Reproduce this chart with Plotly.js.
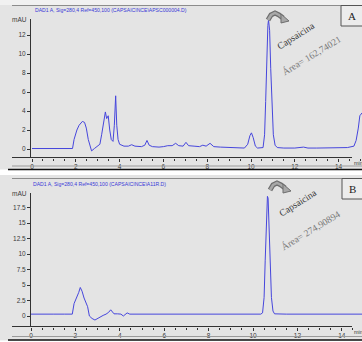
<!DOCTYPE html>
<html>
<head>
<meta charset="utf-8">
<script src="https://cdn.plot.ly/plotly-3.0.1.min.js"></script>
<style>html,body{margin:0;padding:0;background:#fff}#chart{width:362px;height:342px}</style>
</head>
<body>
<div id="chart"></div>
<script>
// Panel A: time (min) and absorbance (mAU)
const timeA = [0, 0.5, 1.0, 1.5, 1.85, 1.92, 1.98, 2.05, 2.15, 2.3, 2.4, 2.48, 2.57, 2.65, 2.72, 2.85, 3.0, 3.1, 3.18, 3.25, 3.35, 3.41, 3.48, 3.55, 3.62, 3.7, 3.76, 3.82, 3.87, 3.93, 4.0, 4.2, 4.4, 4.55, 4.7, 5.0, 5.15, 5.25, 5.35, 5.5, 5.8, 6.0, 6.2, 6.4, 6.56, 6.7, 6.9, 7.03, 7.15, 7.4, 7.65, 7.8, 7.95, 8.13, 8.3, 8.6, 9.0, 9.4, 9.7, 9.85, 9.95, 10.02, 10.1, 10.2, 10.3, 10.55, 10.62, 10.67, 10.72, 10.77, 10.8, 10.85, 10.9, 10.95, 11.02, 11.1, 11.2, 11.5, 12.0, 12.4, 12.6, 13.0, 13.5, 14.0, 14.4, 14.7, 14.8, 14.9, 14.97, 15.07];
const mauA = [0.05, 0.05, 0.03, 0.05, 0.05, 1.0, 1.6, 2.0, 2.5, 2.9, 2.8, 2.2, 1.0, 0.2, -0.2, 0.05, 0.3, 0.5, 1.5, 2.6, 3.9, 3.2, 3.5, 2.0, 1.0, 0.8, 2.5, 5.6, 2.5, 1.0, 0.5, 0.3, 0.3, 0.45, 0.3, 0.25, 0.4, 0.9, 0.4, 0.25, 0.2, 0.25, 0.35, 0.35, 0.6, 0.35, 0.3, 0.7, 0.35, 0.3, 0.25, 0.4, 0.3, 0.6, 0.25, 0.2, 0.15, 0.15, 0.1, 0.5, 1.4, 1.7, 1.2, 0.3, 0.1, 0.15, 1.5, 5, 10, 13.0, 13.6, 12.5, 8.5, 4.5, 1.5, 0.4, 0.15, 0.1, 0.1, 0.2, 0.1, 0.1, 0.12, 0.15, 0.15, 0.3, 0.9, 2.2, 3.5, 3.8];
// Panel B
const timeB = [0, 0.5, 1.0, 1.5, 1.86, 1.94, 2.05, 2.15, 2.22, 2.3, 2.39, 2.47, 2.55, 2.63, 2.75, 2.88, 3.0, 3.1, 3.25, 3.38, 3.5, 3.59, 3.66, 3.74, 3.9, 4.05, 4.16, 4.25, 4.33, 4.45, 5.0, 6.0, 7.0, 8.0, 9.0, 10.0, 10.35, 10.43, 10.5, 10.55, 10.6, 10.65, 10.68, 10.72, 10.77, 10.83, 10.9, 10.97, 11.5, 12.5, 13.5, 14.91];
const mauB = [0.3, 0.35, 0.3, 0.3, 0.3, 2.0, 2.8, 3.8, 4.6, 4.0, 2.9, 2.3, 1.5, 0.0, -0.4, -0.65, -0.4, -0.1, 0.1, 0.3, 0.6, 1.0, 0.6, 0.35, 0.35, 0.3, 0.0, 0.3, 0.5, 0.3, 0.3, 0.25, 0.3, 0.25, 0.3, 0.2, 0.3, 0.5, 3.0, 9.0, 15.5, 19.3, 19.0, 15.0, 8.0, 3.0, 0.8, 0.35, 0.3, 0.3, 0.3, 0.3];

const ticksA = [0, 2, 4, 6, 8, 10, 12];
const ticksB = [0, 2.5, 5, 7.5, 10, 12.5, 15, 17.5];
const ticksX = [0, 2, 4, 6, 8, 10, 12, 14];

const titleA = "DAD1 A, Sig=280,4 Ref=450,100 (CAPSAICINCE\\APSC000004.D)";
const titleB = "DAD1 A, Sig=280,4 Ref=450,100 (CAPSAICINCE\\A11R.D)";
const peakName = "Capsaicina";
const areaA = "Área= 162,74021";
const areaB = "Área= 274,90894";

const W = 362, H = 342;
const px = x => x / W;
const py = y => 1 - y / H;

const lineCol = '#4646dc';
const tickFont = {family: 'Liberation Sans, Arial, sans-serif', size: 6.5, color: '#3a3a3a'};

const traces = [
  {x: timeA, y: mauA, type: 'scatter', mode: 'lines', line: {color: lineCol, width: 1}, xaxis: 'x', yaxis: 'y', hoverinfo: 'none'},
  {x: timeB, y: mauB, type: 'scatter', mode: 'lines', line: {color: lineCol, width: 1}, xaxis: 'x2', yaxis: 'y2', hoverinfo: 'none'}
];

function xax(domainAnchor, range) {
  return {domain: [px(31), 1], range: range, anchor: domainAnchor, showgrid: false, zeroline: false, showline: false,
    tickmode: 'array', tickvals: ticksX, ticktext: ticksX.map(String), ticks: 'outside', ticklen: 3, tickcolor: '#333', tickwidth: 1,
    minor: {dtick: 0.5, ticks: 'outside', ticklen: 2, tickcolor: '#333'}, tickfont: tickFont, fixedrange: true};
}
function yax(domain, range, tv, anchor) {
  return {domain: domain, range: range, anchor: anchor, showgrid: false, zeroline: false, showline: true, linecolor: '#333', linewidth: 1,
    tickmode: 'array', tickvals: tv, ticktext: tv.map(String), ticks: 'outside', ticklen: 3, tickcolor: '#333',
    tickfont: tickFont, fixedrange: true};
}

const shapes = [];
shapes.push({type: 'rect', xref: 'paper', yref: 'paper', x0: 0, x1: 1, y0: py(0), y1: py(5), fillcolor: '#f1f1f1', line: {width: 0}, layer: 'below'});
shapes.push({type: 'rect', xref: 'paper', yref: 'paper', x0: 0, x1: 1, y0: py(169.5), y1: py(175), fillcolor: '#ffffff', line: {width: 0}, layer: 'below'});
shapes.push({type: 'rect', xref: 'paper', yref: 'paper', x0: 0, x1: 1, y0: py(340.5), y1: py(342), fillcolor: '#ffffff', line: {width: 0}, layer: 'below'});
function hline(y, x0, x1, col, w) {
  shapes.push({type: 'line', xref: 'paper', yref: 'paper', x0: px(x0), x1: px(x1), y0: py(y), y1: py(y), line: {color: col, width: w}});
}
hline(5.5, 12, 362, '#8c8c8c', 1);
hline(157.5, 12, 352, '#333', 1);
hline(166, 12, 362, '#9a9a9a', 1);
hline(169.5, 8, 362, '#111', 1.5);
hline(178.5, 12, 362, '#8c8c8c', 1);
hline(326.5, 12, 352, '#333', 1);
hline(336.5, 12, 362, '#9a9a9a', 1);
hline(340, 8, 362, '#111', 1.5);
shapes.push({type: 'rect', xref: 'paper', yref: 'paper', x0: px(341), x1: px(362.5), y0: py(26), y1: py(5.5), fillcolor: '#ececec', line: {color: '#555', width: 1}});
shapes.push({type: 'rect', xref: 'paper', yref: 'paper', x0: px(342), x1: px(362.5), y0: py(199), y1: py(178.5), fillcolor: '#ececec', line: {color: '#555', width: 1}});

function pathFrom(pts) {
  return pts.map((p, i) => (i ? 'L' : 'M') + px(p[0]).toFixed(5) + ',' + py(p[1]).toFixed(5)).join(' ');
}
function hook(ox, oy) {
  const body = [[ox, oy + 7], [ox + 3, oy + 2], [ox + 7, oy], [ox + 11, oy + 2], [ox + 15, oy + 5]];
  const head = [[ox + 13, oy + 1], [ox + 21, oy + 8], [ox + 13, oy + 10]];
  shapes.push({type: 'path', xref: 'paper', yref: 'paper', path: pathFrom(body), line: {color: '#6e6e6e', width: 5}});
  shapes.push({type: 'path', xref: 'paper', yref: 'paper', path: pathFrom(body), line: {color: '#a8a8a8', width: 2.5}});
  shapes.push({type: 'path', xref: 'paper', yref: 'paper', path: pathFrom(head) + ' Z', fillcolor: '#a8a8a8', line: {color: '#6e6e6e', width: 1}});
}
hook(268, 13);
hook(270, 183);

const serif = 'Liberation Serif, Times New Roman, serif';
const ann = [];
function txt(text, x, y, opts) {
  ann.push(Object.assign({text: text, xref: 'paper', yref: 'paper', x: px(x), y: py(y), showarrow: false,
    xanchor: 'center', yanchor: 'middle', font: {family: serif, size: 9, color: '#444'}}, opts || {}));
}
const titleFont = {family: 'Liberation Sans, Arial, sans-serif', size: 5.1, color: '#3a3ad8'};
txt(titleA, 33, 9.5, {xanchor: 'left', font: titleFont});
txt(titleB, 31, 183.5, {xanchor: 'left', font: titleFont});
txt('mAU', 29, 19, {xanchor: 'right', font: tickFont});
txt('mAU', 29, 193, {xanchor: 'right', font: tickFont});
const minFont = {family: 'Liberation Sans, Arial, sans-serif', size: 5.5, color: '#3a3a3a'};
txt('min', 351.5, 163, {xanchor: 'left', font: minFont});
txt('min', 352, 332, {xanchor: 'left', font: minFont});
txt(peakName, 296, 36, {textangle: -32, font: {family: serif, size: 9.5, color: '#3a3a3a'}});
txt(areaA, 311, 55, {textangle: -31, font: {family: serif, size: 9.5, color: '#777'}});
txt(peakName, 298, 203, {textangle: -32, font: {family: serif, size: 9.5, color: '#3a3a3a'}});
txt(areaB, 310, 230, {textangle: -31, font: {family: serif, size: 9.5, color: '#777'}});
txt('A', 352, 16, {font: {family: serif, size: 11, color: '#222'}});
txt('B', 352.5, 189, {font: {family: serif, size: 11, color: '#222'}});

const layout = {
  width: W, height: H, margin: {l: 0, r: 0, t: 0, b: 0}, showlegend: false,
  paper_bgcolor: '#e4e4e4', plot_bgcolor: 'rgba(0,0,0,0)',
  xaxis: xax('y', [(31 - 32) / 21.9, (362 - 32) / 21.9]),
  yaxis: yax([py(157.5), py(19)], [(149 - 157.5) / 9.5, (149 - 19) / 9.5], ticksA, 'x'),
  xaxis2: xax('y2', [0, (362 - 31) / 22.2]),
  yaxis2: yax([py(326.5), py(193)], [(316 - 326.5) / 6.2, (316 - 193) / 6.2], ticksB, 'x2'),
  shapes: shapes, annotations: ann
};
Plotly.newPlot('chart', traces, layout, {staticPlot: true, displayModeBar: false});
</script>
</body>
</html>
